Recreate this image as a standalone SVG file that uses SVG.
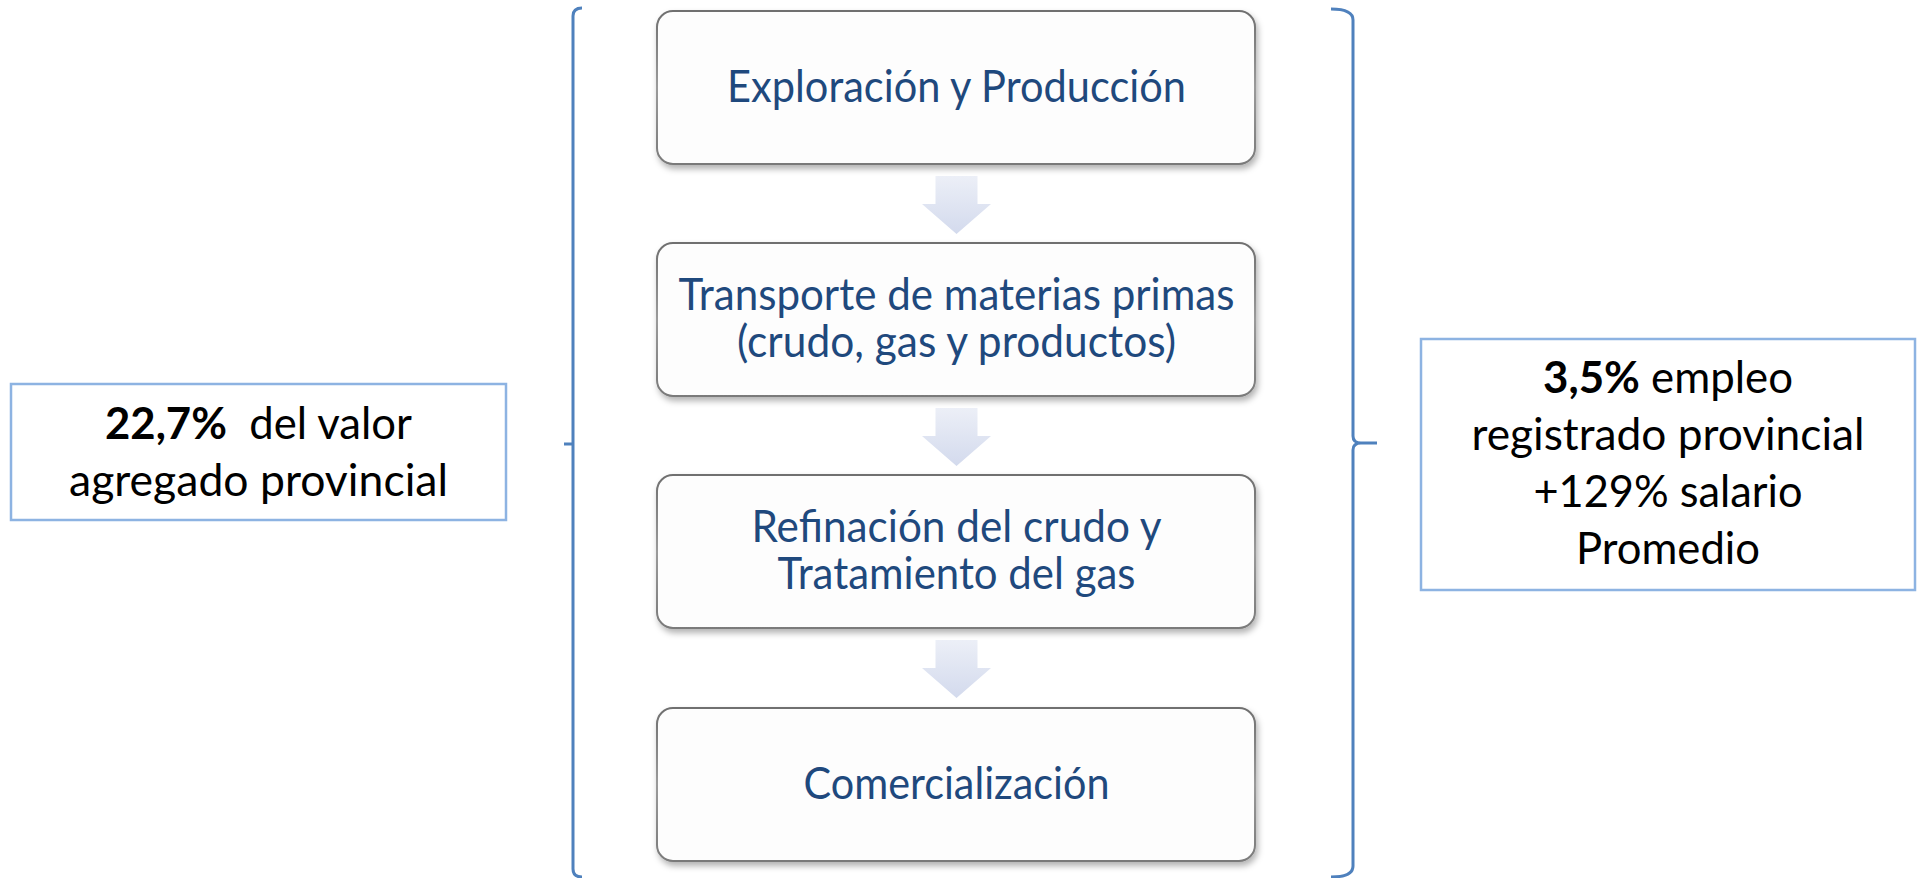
<svg xmlns="http://www.w3.org/2000/svg" width="1925" height="878" viewBox="0 0 1925 878">
<style>
.step{fill:#fdfdfd;stroke:url(#edge);stroke-width:2;filter:url(#shadow)}
.stxt{font-family:Lato,"Open Sans","Liberation Sans",sans-serif;font-size:44px;fill:#1F497D;text-anchor:middle}
.info{fill:#ffffff;stroke:#8DB3E2;stroke-width:2.5}
.itxt{font-family:Lato,"Open Sans","Liberation Sans",sans-serif;font-size:44px;fill:#000000;text-anchor:middle}
.b{font-weight:bold}
.arrow{fill:url(#arrowFill)}
.brace{fill:none;stroke:#4F81BD;stroke-width:3;stroke-linecap:butt;stroke-linejoin:round}
</style>
<defs>
<linearGradient id="edge" x1="0" y1="0" x2="0" y2="1">
<stop offset="0" stop-color="#6f6f6f"/>
<stop offset="0.5" stop-color="#9a9a9a"/>
<stop offset="1" stop-color="#7a7a7a"/>
</linearGradient>
<linearGradient id="arrowFill" x1="0" y1="0" x2="0" y2="1">
<stop offset="0" stop-color="#eceff7"/>
<stop offset="1" stop-color="#d3daed"/>
</linearGradient>
<filter id="shadow" x="-5%" y="-10%" width="115%" height="130%">
<feDropShadow dx="2" dy="4" stdDeviation="3" flood-color="#000" flood-opacity="0.3"/>
</filter>
</defs>
<rect width="1925" height="878" fill="#ffffff"/>

<g id="connectors">
<path class="arrow" d="M935.5,176 H977.5 V204 H991 L956.5,234 L922,204 H935.5 Z"/>
<path class="arrow" d="M935.5,408 H977.5 V436 H991 L956.5,466 L922,436 H935.5 Z"/>
<path class="arrow" d="M935.5,640 H977.5 V668 H991 L956.5,698 L922,668 H935.5 Z"/>
<path id="left-bracket" class="brace" d="M582,8 Q573,8 573,16 V869 Q573,877 582,877 M564,444 H573"/>
<path id="right-bracket" class="brace" d="M1331,9 Q1353,9 1353,20 V436 Q1353,443 1361,443 H1377 M1361,443 Q1353,443 1353,450 V866 Q1353,877 1331,877"/>
</g>

<g id="step1">
<rect class="step" x="657" y="11" width="598" height="153" rx="16"/>
<text class="stxt" x="956.5" y="102" textLength="459" lengthAdjust="spacingAndGlyphs">Exploración y Producción</text>
</g>
<g id="step2">
<rect class="step" x="657" y="243" width="598" height="153" rx="16"/>
<text class="stxt" x="956.5" y="310" textLength="556" lengthAdjust="spacingAndGlyphs">Transporte de materias primas</text>
<text class="stxt" x="956.5" y="357" textLength="439" lengthAdjust="spacingAndGlyphs">(crudo, gas y productos)</text>
</g>
<g id="step3">
<rect class="step" x="657" y="475" width="598" height="153" rx="16"/>
<text class="stxt" x="956.5" y="542" textLength="410" lengthAdjust="spacingAndGlyphs">Refinación del crudo y</text>
<text class="stxt" x="956.5" y="589" textLength="358" lengthAdjust="spacingAndGlyphs">Tratamiento del gas</text>
</g>
<g id="step4">
<rect class="step" x="657" y="708" width="598" height="153" rx="16"/>
<text class="stxt" x="956.5" y="799" textLength="306" lengthAdjust="spacingAndGlyphs">Comercialización</text>
</g>

<g id="left-info">
<rect class="info" x="11" y="384" width="495" height="136"/>
<text class="itxt" x="258.5" y="439" textLength="307" lengthAdjust="spacingAndGlyphs" xml:space="preserve"><tspan class="b">22,7%</tspan>  del valor</text>
<text class="itxt" x="258.5" y="496" textLength="379" lengthAdjust="spacingAndGlyphs">agregado provincial</text>
</g>

<g id="right-info">
<rect class="info" x="1421" y="339" width="494" height="251"/>
<text class="itxt" x="1668" y="393" textLength="250" lengthAdjust="spacingAndGlyphs"><tspan class="b">3,5%</tspan> empleo</text>
<text class="itxt" x="1668" y="450" textLength="393" lengthAdjust="spacingAndGlyphs">registrado provincial</text>
<text class="itxt" x="1668" y="507" textLength="269" lengthAdjust="spacingAndGlyphs">+129% salario</text>
<text class="itxt" x="1668" y="564" textLength="184" lengthAdjust="spacingAndGlyphs">Promedio</text>
</g>
</svg>
